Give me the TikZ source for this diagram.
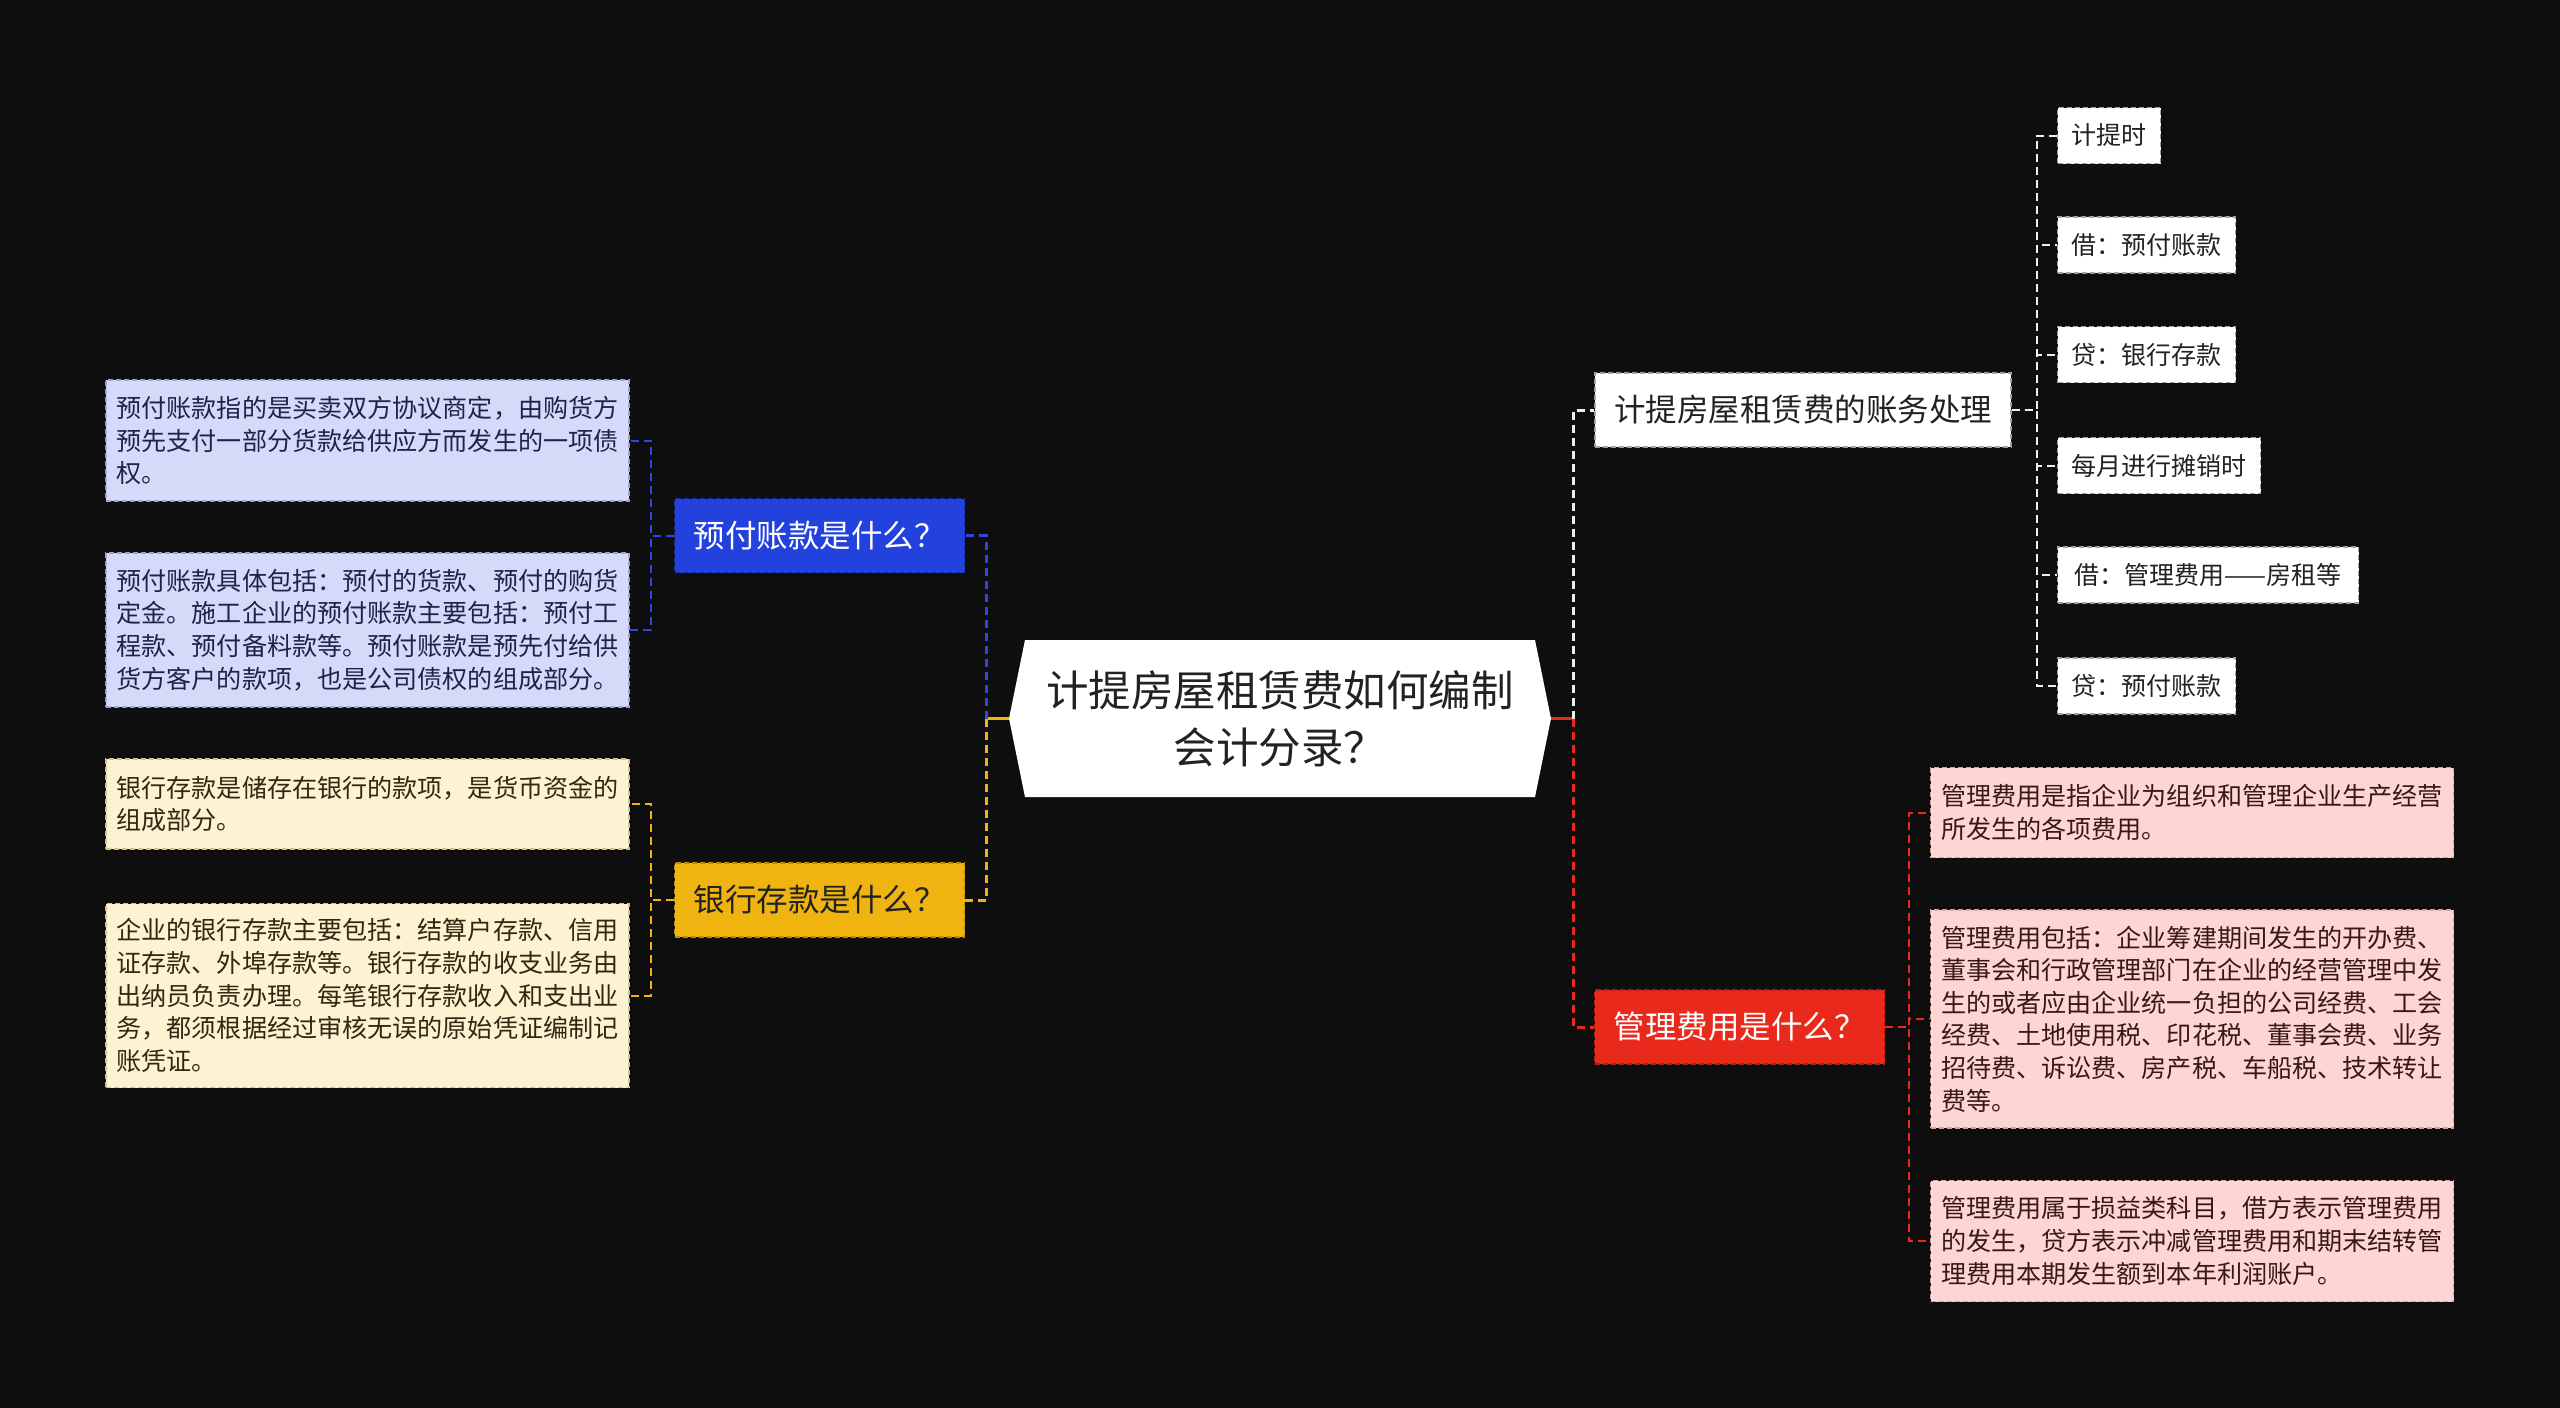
\documentclass[tikz,border=0pt]{standalone}
\usepackage{fontspec}
\newfontfamily\cjk{Noto Sans CJK SC}
\usetikzlibrary{calc}
\definecolor{bg}{HTML}{0E0E0E}
\definecolor{bluefill}{HTML}{2341DC}
\definecolor{blueedge}{HTML}{1730B0}
\definecolor{yelfill}{HTML}{F0B410}
\definecolor{yeledge}{HTML}{C08E00}
\definecolor{redfill}{HTML}{E8291B}
\definecolor{rededge}{HTML}{B81C12}
\definecolor{bleaf}{HTML}{D6DAF8}
\definecolor{bleafedge}{HTML}{9EA3D6}
\definecolor{yleaf}{HTML}{FDF3D2}
\definecolor{yleafedge}{HTML}{D2C38E}
\definecolor{rleaf}{HTML}{FCD6D3}
\definecolor{rleafedge}{HTML}{D8A6A2}
\definecolor{wedge}{HTML}{A0A0A0}
\definecolor{txt}{HTML}{222222}
\definecolor{btxt}{HTML}{20224A}
\definecolor{ytxt}{HTML}{302810}
\definecolor{rtxt}{HTML}{3A1616}
\definecolor{bline}{HTML}{2C48E0}
\definecolor{yline}{HTML}{F0B410}
\definecolor{rline}{HTML}{E8291B}
\definecolor{wline}{HTML}{EEEEEE}
\begin{document}
\begin{tikzpicture}[x=1pt,y=-1pt,
  edgedash/.style={line width=1.2pt, dash pattern=on 5pt off 3pt},
  leafbox/.style={draw, edgedash, text width=502pt, align=left, inner xsep=10.5pt, inner ysep=0pt,
    font={\cjk\fontsize{25.1}{32.6}\selectfont}},
  midbox/.style={draw, edgedash, minimum height=74pt, inner xsep=19pt, inner ysep=0pt,
    font={\cjk\fontsize{31.5}{36}\selectfont}},
  smallbox/.style={draw=wedge, fill=white, edgedash, text=txt, minimum height=56pt, inner xsep=14pt, inner ysep=0pt,
    font={\cjk\fontsize{25}{30}\selectfont}},
  trunk/.style={line width=3pt, dash pattern=on 8pt off 5pt},
  conn/.style={line width=2pt, dash pattern=on 8pt off 5pt}
]
\fill[bg] (0,0) rectangle (2560,1408);

% central topic
\fill[white] (1025,640) -- (1535,640) -- (1551,718.5) -- (1535,797) -- (1025,797) -- (1009,718.5) -- cycle;
\node[font={\cjk\fontsize{42.5}{57}\selectfont}, text=txt, align=center, minimum width=510pt, minimum height=157pt, inner sep=0pt] (c) at (1280,718.5) {计提房屋租赁费如何编制\\会计分录？};

% main branches
\node[midbox, fill=bluefill, draw=blueedge, text=white, minimum width=288pt] (q1) at (819.5,535.5) {预付账款是什么？};
\node[midbox, fill=yelfill, draw=yeledge, text=txt, minimum width=288pt] (q2) at (819.5,900) {银行存款是什么？};
\node[midbox, fill=white, draw=wedge, text=txt, minimum width=416pt] (q3) at (1803,410) {计提房屋租赁费的账务处理};
\node[midbox, fill=redfill, draw=rededge, text=white, minimum width=288pt] (q4) at (1739.5,1027) {管理费用是什么？};

% blue leaves
\node[leafbox, fill=bleaf, draw=bleafedge, text=btxt, minimum height=121pt] (b1) at (367.5,440.5)
  {预付账款指的是买卖双方协议商定，由购货方\\预先支付一部分货款给供应方而发生的一项债\\权。};
\node[leafbox, fill=bleaf, draw=bleafedge, text=btxt, minimum height=154pt] (b2) at (367.5,630)
  {预付账款具体包括：预付的货款、预付的购货\\定金。施工企业的预付账款主要包括：预付工\\程款、预付备料款等。预付账款是预先付给供\\货方客户的款项，也是公司债权的组成部分。};

% yellow leaves
\node[leafbox, fill=yleaf, draw=yleafedge, text=ytxt, minimum height=90pt] (y1) at (367.5,804)
  {银行存款是储存在银行的款项，是货币资金的\\组成部分。};
\node[leafbox, fill=yleaf, draw=yleafedge, text=ytxt, minimum height=184pt] (y2) at (367.5,995.5)
  {企业的银行存款主要包括：结算户存款、信用\\证存款、外埠存款等。银行存款的收支业务由\\出纳员负责办理。每笔银行存款收入和支出业\\务，都须根据经过审核无误的原始凭证编制记\\账凭证。};

% white small leaves
\node[smallbox, anchor=west] (s1) at (2057,135.5) {计提时};
\node[smallbox, anchor=west] (s2) at (2057,245) {借：预付账款};
\node[smallbox, anchor=west] (s3) at (2057,354.5) {贷：银行存款};
\node[smallbox, anchor=west] (s4) at (2057,465.5) {每月进行摊销时};
\node[smallbox, anchor=west, minimum width=301pt] (s5) at (2057,575) {借：管理费用——房租等};
\node[smallbox, anchor=west] (s6) at (2057,686) {贷：预付账款};

% red leaves
\node[leafbox, fill=rleaf, draw=rleafedge, text=rtxt, minimum height=90pt] (r1) at (2192,812.5)
  {管理费用是指企业为组织和管理企业生产经营\\所发生的各项费用。};
\node[leafbox, fill=rleaf, draw=rleafedge, text=rtxt, minimum height=218pt] (r2) at (2192,1019)
  {管理费用包括：企业筹建期间发生的开办费、\\董事会和行政管理部门在企业的经营管理中发\\生的或者应由企业统一负担的公司经费、工会\\经费、土地使用税、印花税、董事会费、业务\\招待费、诉讼费、房产税、车船税、技术转让\\费等。};
\node[leafbox, fill=rleaf, draw=rleafedge, text=rtxt, minimum height=121pt] (r3) at (2192,1241)
  {管理费用属于损益类科目，借方表示管理费用\\的发生，贷方表示冲减管理费用和期末结转管\\理费用本期发生额到本年利润账户。};

% connectors from the central topic
\coordinate (lt) at (986,718.5);
\coordinate (rt) at (1573,718.5);
\draw[yline, line width=3pt] ([xshift=-16pt]c.west) -- (lt);
\draw[bline, trunk] (lt) |- (q1.east);
\draw[yline, trunk] (lt) |- (q2.east);
\draw[rline, line width=3pt] ([xshift=16pt]c.east) -- (rt);
\draw[wline, trunk] (rt) |- (q3.west);
\draw[rline, trunk] (rt) |- (q4.west);

% second level connectors
\foreach \t in {b1,b2} \draw[bline, conn] (q1.west) -- ++(-23,0) |- (\t.east);
\foreach \t in {y1,y2} \draw[yline, conn] (q2.west) -- ++(-23,0) |- (\t.east);
\foreach \t in {s1,s2,s3,s4,s5,s6} \draw[wline, conn] (q3.east) -- ++(25,0) |- (\t.west);
\foreach \t in {r1,r2,r3} \draw[rline, conn] (q4.east) -- ++(24,0) |- (\t.west);
\end{tikzpicture}
\end{document}
